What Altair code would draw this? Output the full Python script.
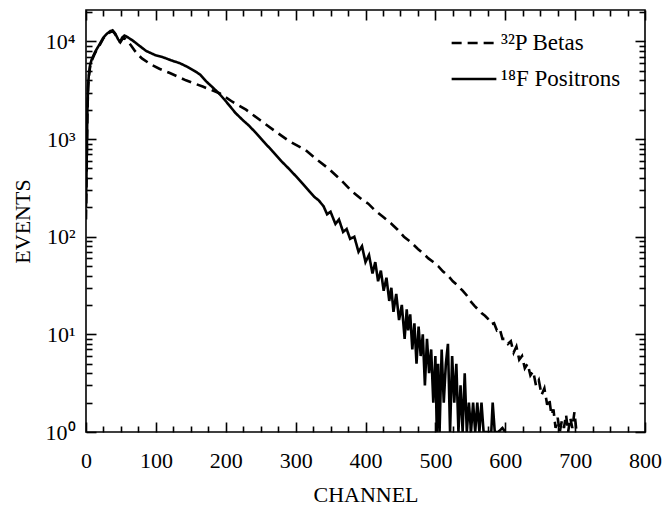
import altair as alt
import pandas as pd

# ---- data ----
ch_f = [0, 1, 2, 3, 4, 6, 8, 10, 13, 16,
        20, 25, 30, 35, 38, 42, 46, 49, 52, 55,
        60, 67, 75, 86, 100, 110, 122, 134, 145, 155,
        163, 172, 181, 191, 200, 214, 225, 233, 245, 255,
        267, 280, 290, 300, 310, 320, 327, 333, 340, 345,
        350, 357, 362, 368, 373, 378, 384, 390, 395, 400,
        405, 410, 414, 418, 422, 426, 430, 434, 437, 440,
        444, 448, 452, 456, 459, 461, 464, 467, 470, 473,
        476, 479, 482, 485, 488, 491, 494, 497, 500, 502,
        504, 506, 509, 512, 515, 518, 521, 524, 527, 530,
        533, 536, 539, 542, 545, 548, 551, 554, 557, 560,
        563, 566, 569, 572, 576, 580, 582, 585, 590, 596,
        600]
ev_f = [200, 600, 2000, 3500, 4500, 5800, 6500, 7000, 7800, 8500,
        9500, 11000, 12000, 12800, 13000, 12000, 10500, 10000, 11000, 11500,
        11000, 10200, 9200, 8000, 7200, 6900, 6400, 6000, 5500, 5000,
        4600, 3900, 3400, 2900, 2450, 1850, 1550, 1380, 1120, 930,
        750, 590, 500, 420, 350, 290, 255, 236, 205, 170,
        180, 135, 150, 112, 120, 95, 100, 70, 80, 55,
        65, 42, 55, 35, 45, 28, 38, 22, 30, 17,
        26, 14, 20, 9, 18, 11, 16, 7, 13, 5,
        12, 6, 10, 3, 9, 4, 7, 2, 6, 1,
        5, 1, 7, 2, 5, 8, 1, 6, 2, 5,
        1, 3, 1, 4, 1, 2, 1, 2, 1, 2,
        1, 2, 1, 1, 1, 1, 2, 1, 1, 1.1,
        1]

ch_p = [0, 1, 2, 3, 4, 6, 8, 10, 13, 16,
        20, 25, 30, 35, 38, 42, 46, 49, 52, 55,
        60, 65, 70, 74, 80, 93, 105, 120, 143, 167,
        191, 210, 229, 250, 271, 290, 314, 330, 347, 365,
        380, 395, 404, 414, 425, 437, 446, 455, 465, 475,
        483, 490, 497, 504, 511, 518, 525, 532, 539, 545,
        550, 556, 561, 566, 571, 575, 580, 584, 588, 592,
        596, 600, 604, 608, 612, 616, 620, 624, 628, 632,
        636, 640, 644, 648, 652, 656, 660, 663, 666, 669,
        672, 675, 678, 681, 684, 687, 690, 693, 696, 699,
        702, 704]
ev_p = [150, 500, 1800, 3300, 4300, 5600, 6300, 6800, 7600, 8300,
        9300, 10800, 11800, 12500, 12800, 11800, 10300, 9800, 10600, 10800,
        10000, 9000, 8000, 7400, 6700, 5800, 5250, 4750, 4000, 3450,
        2950, 2400, 2000, 1550, 1200, 960, 775, 620, 500, 380,
        295, 240, 218, 185, 160, 136, 118, 100, 88, 75,
        67, 60, 55, 50, 44, 40, 35, 31.6, 28, 25,
        22, 19.6, 18, 16.5, 15.5, 14.5, 12.7, 13, 11, 11.5,
        9, 9, 8, 8.5, 6.5, 7.5, 5.5, 6, 4.5, 5,
        3.8, 4.2, 3, 3.4, 2.4, 2.8, 1.9, 2.2, 1.5, 1.7,
        1.1, 1.4, 1.0, 1.3, 1.1, 1.5, 1.0, 1.4, 1.1, 1.6,
        1.0, 1.0]

series_names = ["³²P Betas", "¹⁸F Positrons"]

x_major = [0, 100, 200, 300, 400, 500, 600, 700, 800]
x_minor = [25, 50, 75, 125, 150, 175, 225, 250, 275, 325, 350, 375,
           425, 450, 475, 525, 550, 575, 625, 650, 675, 725, 750, 775]
y_major = [1, 10, 100, 1000, 10000]
y_minor = [2, 3, 4, 5, 6, 7, 8, 9, 20, 30, 40, 50, 60, 70, 80, 90,
           200, 300, 400, 500, 600, 700, 800, 900,
           2000, 3000, 4000, 5000, 6000, 7000, 8000, 9000, 20000]

df = pd.concat([
    pd.DataFrame({"channel": ch_p, "events": ev_p, "series": series_names[0]}),
    pd.DataFrame({"channel": ch_f, "events": ev_f, "series": series_names[1]}),
], ignore_index=True)

W, H = 559, 422
FONT = "Liberation Serif"
FS = 22

xscale = alt.Scale(domain=[0, 800], nice=False, zero=False)
yscale = alt.Scale(type="log", domain=[1, 21000], nice=False)

x_main = alt.Axis(values=x_major, ticks=False, domain=False, grid=False,
                  labelFont=FONT, labelFontSize=FS, labelColor="black",
                  labelPadding=18, labelFlush=False, labelOverlap=False,
                  title="CHANNEL", titleFont=FONT, titleFontSize=FS,
                  titleColor="black", titleFontWeight="normal",
                  titleY=62, titleBaseline="middle")
y_main = alt.Axis(values=y_major, ticks=False, domain=False, grid=False,
                  labelFont=FONT, labelFontSize=FS, labelColor="black",
                  labelPadding=11, labelFlush=False, labelOverlap=False,
                  labelExpr="'10' + ['⁰','¹','²','³','⁴'][round(log(datum.value)/LN10)]",
                  title="EVENTS", titleFont=FONT, titleFontSize=FS,
                  titleColor="black", titleFontWeight="normal",
                  titleX=-64, titleBaseline="middle")


def tick_axis(orient, offset, values, size):
    return alt.Axis(orient=orient, offset=offset, values=values, tickSize=size,
                    labels=False, domain=False, grid=False, title="",
                    ticks=True, tickColor="black", tickWidth=1.6)


lines = alt.Chart(df).mark_line(strokeWidth=2.6, color="black", clip=True).encode(
    x=alt.X("channel:Q", scale=xscale, axis=x_main),
    y=alt.Y("events:Q", scale=yscale, axis=y_main),
    strokeDash=alt.StrokeDash(
        "series:N",
        scale=alt.Scale(domain=series_names, range=[[10, 6], [1, 0]]),
        legend=alt.Legend(title="", orient="none", legendX=364, legendY=9,
                          symbolType="stroke", symbolSize=2000,
                          symbolStrokeWidth=2.6, symbolStrokeColor="black",
                          labelFontSize=23, labelFont=FONT, labelColor="black",
                          labelOffset=3, rowPadding=-14),
    ),
    order="channel:Q",
)


def tick_layer(xaxis, yaxis):
    return alt.Chart(df).mark_point(opacity=0).encode(
        x=alt.X("channel:Q", scale=xscale, axis=xaxis),
        y=alt.Y("events:Q", scale=yscale, axis=yaxis),
    )


layers = [
    lines,
    tick_layer(tick_axis("top", -H, x_major, 10), tick_axis("right", -W, y_major, 10)),
    tick_layer(tick_axis("top", -H, x_minor, 6), tick_axis("right", -W, y_minor, 6)),
    tick_layer(tick_axis("bottom", -H, x_major, 10), tick_axis("left", -W, y_major, 10)),
    tick_layer(tick_axis("bottom", -H, x_minor, 6), tick_axis("left", -W, y_minor, 6)),
]

chart = alt.layer(*layers).resolve_axis(x="independent", y="independent").properties(
    width=W, height=H,
    padding={"left": 86, "top": 10, "right": 663 - 86 - W, "bottom": 508 - 10 - H},
    autosize=alt.AutoSizeParams(type="none"),
).configure(font=FONT).configure_view(stroke="black", strokeWidth=1.6).configure_axis(
    labelFont=FONT, titleFont=FONT
).configure_legend(labelFont=FONT)

chart.save("out.html", embed_options={"renderer": "svg", "actions": False})
